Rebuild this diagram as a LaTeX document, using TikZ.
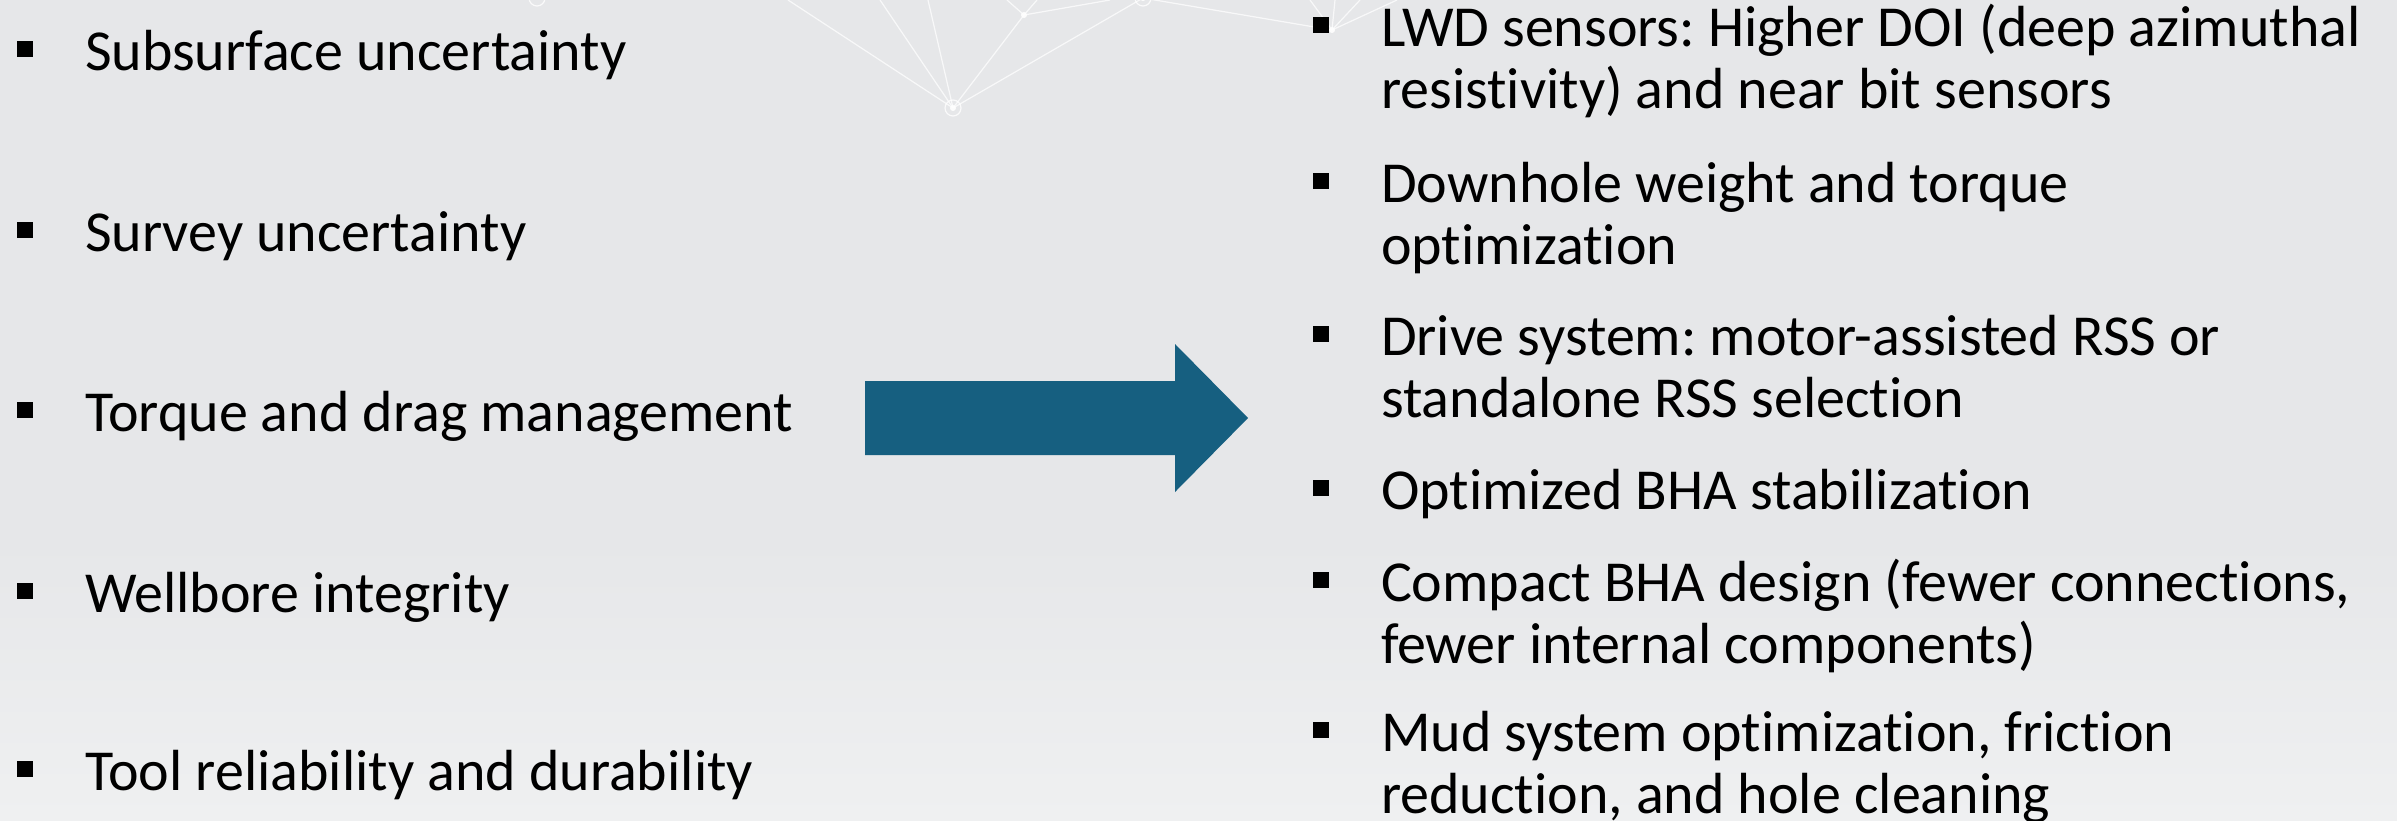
\documentclass[tikz,border=0pt]{standalone}
\usepackage{fontspec}
\setmainfont[Ligatures=NoCommon]{Carlito}
\definecolor{bgtop}{RGB}{230,231,233}
\definecolor{bgbot}{RGB}{239,240,241}
\definecolor{arrowblue}{RGB}{22,95,128}
\newcommand\mytwoline[2]{\vtop{\hbox{#1}\hbox{#2}}}
\frenchspacing
\begin{document}
\begin{tikzpicture}[x=0.5pt,y=-0.5pt,
  itemtext/.style={anchor=base west,inner sep=0pt,outer sep=0pt,font=\fontsize{29}{31}\selectfont\frenchspacing,text=black},
  bulletsq/.style={fill=black,inner sep=0pt,minimum size=8.3pt,draw=none},
  netline/.style={draw=white,opacity=0.75,line width=0.6pt},
  netdot/.style={circle,fill=white,inner sep=0pt,minimum size=3pt,opacity=0.9},
  netring/.style={circle,draw=white,line width=0.6pt,inner sep=0pt,minimum size=8pt,opacity=0.8}]
\useasboundingbox (0,0) rectangle (2397,820);
\fill[bgtop] (0,0) rectangle (2397,820);
\shade[top color=bgtop,bottom color=bgbot,draw=none] (0,540) rectangle (2397,820);
% background network
\coordinate (e1) at (788,0);
\coordinate (e2) at (880,0);
\coordinate (e3) at (928,0);
\coordinate (e4) at (1007,0);
\coordinate (e5) at (1037,0);
\coordinate (e6) at (1110,0);
\coordinate (e7) at (1310,0);
\coordinate (e8) at (1335,0);
\coordinate (e9) at (1360,0);
\coordinate (e10) at (1397,0);
\node[netdot] (n1) at (953,108) {};
\node[netdot] (n2) at (1024,15) {};
\node[netdot] (n3) at (1143,-2) {};
\node[netdot] (n4) at (1332,30) {};
\node[netring] (r1) at (953,108) {};
\node[netring] (r3) at (1143,-2) {};
\node[netring] (r5) at (537,-2) {};
\draw[netline] (n1.center) -- (e1);
\draw[netline] (n1.center) -- (e2);
\draw[netline] (n1.center) -- (e3);
\draw[netline] (n1.center) -- (n2.center);
\draw[netline] (n1.center) -- (n3.center);
\draw[netline] (n2.center) -- (e4);
\draw[netline] (n2.center) -- (e5);
\draw[netline] (n2.center) -- (e6);
\draw[netline] (n3.center) -- (n4.center);
\draw[netline] (n4.center) -- (e7);
\draw[netline] (n4.center) -- (e8);
\draw[netline] (n4.center) -- (e9);
\draw[netline] (n4.center) -- (e10);
% left column
\node[bulletsq] (lb1) at (25,49) {};
\node[itemtext] (l1) at (85,70) {Subsurface uncertainty};
\node[bulletsq] (lb2) at (25,230) {};
\node[itemtext] (l2) at (85,251) {Survey uncertainty};
\node[bulletsq] (lb3) at (25,410) {};
\node[itemtext] (l3) at (85,431) {Torque and drag management};
\node[bulletsq] (lb4) at (25,591) {};
\node[itemtext] (l4) at (85,612) {Wellbore integrity};
\node[bulletsq] (lb5) at (25,769) {};
\node[itemtext] (l5) at (85,790) {Tool reliability and durability};
% arrow
\fill[arrowblue] (865,381) -- (1175,381) -- (1175,344) -- (1248,418) -- (1175,492) -- (1175,455) -- (865,455) -- cycle;
% right column
\node[bulletsq] (rb1) at (1321,25) {};
\node[itemtext] (r1t) at (1381,46) {\mytwoline{LWD sensors: Higher DOI (deep azimuthal}{resistivity) and near bit sensors}};
\node[bulletsq] (rb2) at (1321,181) {};
\node[itemtext] (r2t) at (1381,202) {\mytwoline{Downhole weight and torque}{optimization}};
\node[bulletsq] (rb3) at (1321,334) {};
\node[itemtext] (r3t) at (1381,355) {\mytwoline{Drive system: motor-assisted RSS or}{standalone RSS selection}};
\node[bulletsq] (rb4) at (1321,488) {};
\node[itemtext] (r4t) at (1381,509) {Optimized BHA stabilization};
\node[bulletsq] (rb5) at (1321,580) {};
\node[itemtext] (r5t) at (1381,601) {\mytwoline{Compact BHA design (fewer connections,}{fewer internal components)}};
\node[bulletsq] (rb6) at (1321,730) {};
\node[itemtext] (r6t) at (1381,751) {\mytwoline{Mud system optimization, friction}{reduction, and hole cleaning}};
\end{tikzpicture}
\end{document}
